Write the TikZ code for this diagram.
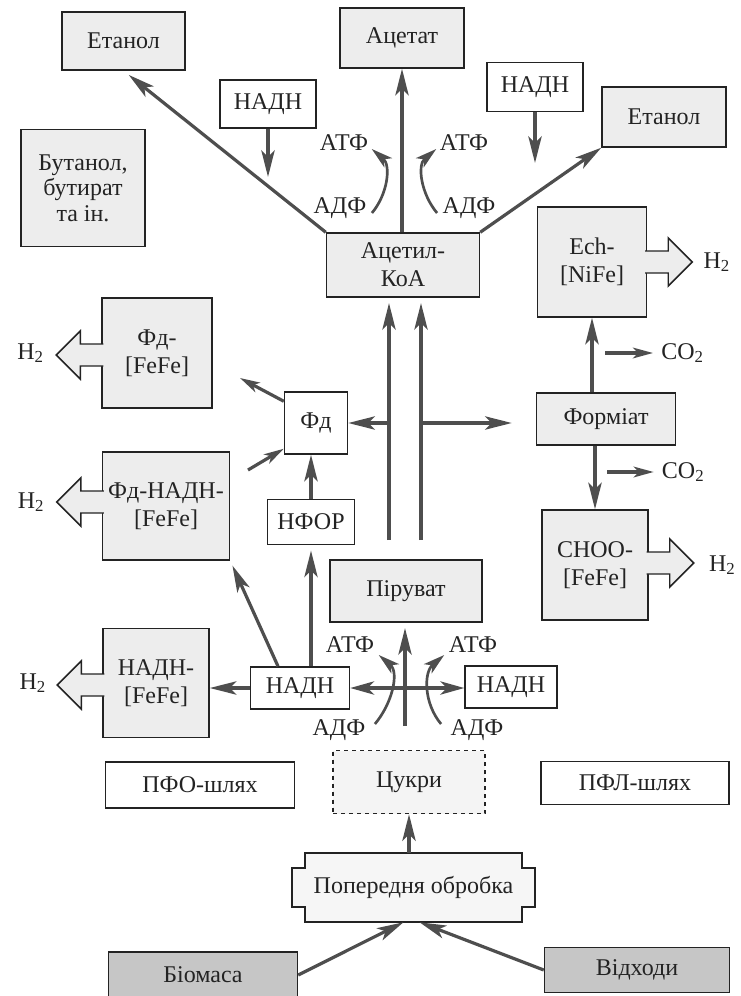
\documentclass[tikz,border=0pt]{standalone}
\usepackage{fontspec}
\setmainfont{Liberation Serif}
\usetikzlibrary{calc, positioning, arrows.meta}

\definecolor{boxgrey}{RGB}{237,237,237}
\definecolor{darkgrey}{RGB}{198,198,198}
\definecolor{linegrey}{RGB}{78,78,78}
\definecolor{inkgrey}{RGB}{35,35,35}

\begin{document}
\begin{tikzpicture}[x=0.75pt, y=0.75pt,
        every node/.style={font=\fontsize{18}{21}\selectfont, text=inkgrey},
        outline/.style={draw=inkgrey, line width=1.1pt},
        box/.style={rectangle, outline, fill=boxgrey, align=center, inner sep=2pt},
        wbox/.style={box, fill=white},
        dbox/.style={box, fill=darkgrey},
        lbl/.style={inner sep=1pt},
        arr/.style={linegrey, line width=2.4pt, -{Stealth[length=20pt, width=10pt, inset=5pt]}},
        darr/.style={arr, {Stealth[length=18pt, width=10pt, inset=5pt]}-{Stealth[length=18pt, width=10pt, inset=5pt]}},
        sarr/.style={arr, -{Stealth[length=15pt, width=8pt, inset=4pt]}},
        carr/.style={arr, line width=2pt, -{Stealth[length=16pt, width=9pt, inset=4pt]}},
        hollow/.style={outline, fill=boxgrey}]
        \useasboundingbox (0,0) rectangle (740,-996);

        % top row
        \node[box, minimum width=92pt, minimum height=43.5pt](etl) at (123.5,-41) {Етанол};
        \node[box, minimum width=93pt, minimum height=45pt](acet) at (402,-38) {Ацетат};
        \node[box, minimum width=93pt, minimum height=45pt](etr) at (664,-117) {Етанол};
        \node[wbox, minimum width=72pt, minimum height=36pt](nadha) at (268,-104) {НАДН};
        \node[wbox, minimum width=72pt, minimum height=36.75pt](nadhb) at (535,-87) {НАДН};
        \node[box, minimum width=93pt, minimum height=87.75pt, font=\fontsize{18}{19}\selectfont](but) at (83,-188) {Бутанол,\\бутират\\та ін.};
        \node[box, minimum width=114.75pt, minimum height=48pt](acoa) at (403,-265) {Ацетил-\\КоА};

        % middle
        \node[box, minimum width=81.75pt, minimum height=82.5pt](ech) at (592,-262) {Ech-\\{[NiFe]}};
        \node[box, minimum width=82.5pt, minimum height=82.5pt](fdfe) at (157,-353) {Фд-\\{[FeFe]}};
        \node[wbox, minimum width=47.25pt, minimum height=46.5pt](fd) at (316,-423) {Фд};
        \node[box, minimum width=104.25pt, minimum height=39pt](form) at (606,-419) {Форміат};
        \node[box, minimum width=95.25pt, minimum height=81pt](fdn) at (166,-506) {Фд-НАДН-\\{[FeFe]}};
        \node[wbox, minimum width=65.25pt, minimum height=33.75pt](nfor) at (311,-522) {НФОР};
        \node[box, minimum width=79.5pt, minimum height=82.5pt](choo) at (595,-565) {CHOO-\\{[FeFe]}};
        \node[box, minimum width=114pt, minimum height=46.5pt](pyr) at (406,-591) {Піруват};
        \node[box, minimum width=79.5pt, minimum height=81.75pt](nfe) at (156,-683) {НАДН-\\{[FeFe]}};
        \node[wbox, minimum width=74.25pt, minimum height=31.5pt](nadhl) at (300,-688) {НАДН};
        \node[wbox, minimum width=69pt, minimum height=31.5pt](nadhr) at (511,-687) {НАДН};

        % bottom
        \node[wbox, minimum width=141.75pt, minimum height=34.5pt](pfo) at (200,-785) {ПФО-шлях};
        \node[box, dashed, fill=boxgrey!60, minimum width=114pt, minimum height=47.25pt](cuk) at (409,-782) {Цукри};
        \node[wbox, minimum width=141pt, minimum height=32.25pt](pfl) at (635,-783) {ПФЛ-шлях};
        \coordinate (popc) at (413.5,-887.5);
        \draw[outline, fill=boxgrey!50] ($(popc)+(-108.5,34.5)$) -- ++(217,0) -- ++(0,-15) -- ++(13,0) -- ++(0,-39) -- ++(-13,0) -- ++(0,-15) -- ++(-217,0) -- ++(0,15) -- ++(-13,0) -- ++(0,39) -- ++(13,0) -- cycle;
        \node[minimum width=182.25pt, minimum height=51.75pt](pop) at (popc) {Попередня обробка};
        \node[dbox, minimum width=141.75pt, minimum height=34.5pt](bio) at (203,-975) {Біомаса};
        \node[dbox, minimum width=138.75pt, minimum height=33.75pt](vid) at (637,-970) {Відходи};

        % ATP / ADP
        \node[lbl](atpa) at (344,-143) {АТФ};
        \node[lbl](adpa) at (340,-208) {АДФ};
        \node[lbl](atpb) at (464,-143) {АТФ};
        \node[lbl](adpb) at (469,-208) {АДФ};
        \node[lbl](atpc) at (350,-645) {АТФ};
        \node[lbl](adpc) at (339,-730) {АДФ};
        \node[lbl](atpd) at (473,-645) {АТФ};
        \node[lbl](adpd) at (477,-730) {АДФ};

        % hydrogen outlets
        \draw[hollow] ($(fdfe.west)+(2,9)$) -- ++(-23,0) -- ++(0,13) -- ++(-24,-24) -- ++(24,-24) -- ++(0,13) -- ++(23,0);
        \draw[hollow] ($(fdn.west)+(2,15)$) -- ++(-23,0) -- ++(0,13) -- ++(-24,-24) -- ++(24,-24) -- ++(0,13) -- ++(23,0);
        \draw[hollow] ($(nfe.west)+(2,9)$) -- ++(-23,0) -- ++(0,13) -- ++(-24,-24) -- ++(24,-24) -- ++(0,13) -- ++(23,0);
        \draw[hollow] ($(ech.east)+(-2,11)$) -- ++(23,0) -- ++(0,13) -- ++(24,-24) -- ++(-24,-24) -- ++(0,13) -- ++(-23,0);
        \draw[hollow] ($(choo.east)+(-2,13)$) -- ++(23,0) -- ++(0,13) -- ++(24,-24) -- ++(-24,-24) -- ++(0,13) -- ++(-23,0);
        \node[lbl, left=42pt of fdfe](ha){H\textsubscript{2}};
        \node[lbl, left=42pt of fdn, yshift=3pt](hb){H\textsubscript{2}};
        \node[lbl, left=41pt of nfe](hc){H\textsubscript{2}};
        \node[lbl, right=41pt of ech](hd){H\textsubscript{2}};
        \node[lbl, right=44pt of choo](he){H\textsubscript{2}};

        % acetyl-CoA branch
        \coordinate (na) at (268,-177);
        \coordinate (nb) at (535,-163);
        \path[arr] (nadha) edge (na)
            (nadhb) edge (nb)
            (acoa.north west) edge[shorten >=5pt] (etl.south)
            (acet.south |- acoa.north) edge (acet.south)
            (acoa.north east) edge (etr.south west);
        \draw[carr] ($(adpa.east)+(4,-5)$) to[out=50, in=-40] ($(atpa.east)+(2,-6)$);
        \draw[carr] ($(adpb.west)+(-4,-5)$) to[out=130, in=-140] ($(atpb.west)+(-2,-6)$);

        % pyruvate cross
        \coordinate (cx) at (405,-726);
        \path[arr] (cx) edge[shorten >=4pt] (cx |- pyr.south);
        \path[darr] (nadhl.east) edge (nadhr.west |- nadhl.east);
        \draw[carr] ($(adpc.east)+(8,6)$) to[out=50, in=-40] ($(atpc.east)+(3,-10)$);
        \draw[carr] ($(adpd.west)+(-8,6)$) to[out=130, in=-140] ($(atpd.west)+(-3,-10)$);

        % NADH on the left
        \path[arr] (nadhl.west) edge (nfe.east |- nadhl.west)
            (nfor.south |- nadhl.north) edge[shorten >=4pt] (nfor.south)
            ($(nadhl.north)+(-22,0)$) edge[shorten >=4pt] (fdn.south east)
            (nfor) edge (nfor.north |- fd.south);

        % pyruvate to acetyl-CoA
        \coordinate (la) at (389,-540);
        \coordinate (ra) at (421,-540);
        \path[arr] (la) edge[shorten >=4pt] (la |- acoa.south)
            (ra) edge[shorten >=4pt] (ra |- acoa.south)
            (la |- fd.east) edge (fd.east)
            (ra |- fd.east) edge[shorten >=18pt] (form.west |- fd.east);

        % ferredoxin
        \coordinate (fu) at (240,-378);
        \coordinate (fl) at (248,-470);
        \path[sarr] ($(fd.north west)+(0,-10)$) edge (fu)
            (fl) edge ($(fd.south west)+(0,6)$);

        % formate
        \path[arr] (ech.south |- form.north) edge (ech.south)
            (choo.north |- form.south) edge (choo.north);
        \coordinate (ca) at (605,-353);
        \coordinate (cb) at (607,-472);
        \node[lbl, right=41pt of ca](coa){CO\textsubscript{2}};
        \node[lbl, right=40pt of cb](cob){CO\textsubscript{2}};
        \path[sarr] (ca) edge[shorten >=5pt] (coa)
            (cb) edge[shorten >=5pt] (cob);

        % pretreatment
        \path[arr] (cuk.south |- pop.north) edge (cuk.south)
            (bio.east) edge ($(pop.south)+(-10,0)$)
            (vid.west) edge ($(pop.south)+(6,0)$);
\end{tikzpicture}
\end{document}
